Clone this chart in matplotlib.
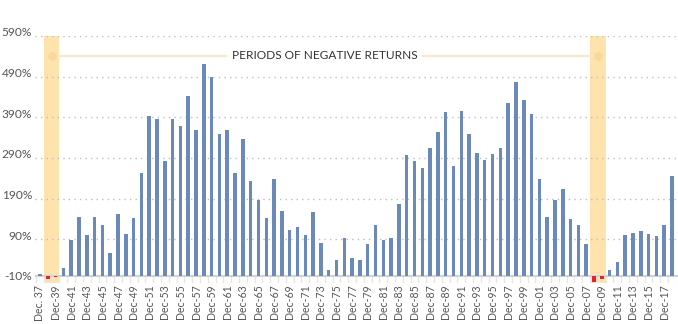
import matplotlib
matplotlib.use("Agg")
import matplotlib.pyplot as plt
from matplotlib.transforms import ScaledTranslation

years = list(range(1937, 2019))
values = [3, -7, -3, 20, 87, 145, 100, 145, 125, 56,
          152, 102, 142, 252, 393, 385, 282, 385, 369, 443,
          359, 522, 488, 348, 358, 252, 337, 234, 187, 142,
          237, 160, 112, 120, 100, 157, 81, 15, 39, 92,
          44, 39, 79, 125, 89, 92, 177, 298, 282, 266,
          314, 353, 403, 269, 406, 348, 303, 284, 300, 314,
          424, 477, 433, 398, 237, 145, 187, 213, 139, 125,
          79, -16, -9, 15, 34, 100, 105, 111, 102, 97,
          125, 246]
negative_periods = [(1938, 1939), (2008, 2009)]
label_years = list(range(1937, 2018, 2))
tick_labels = ["Dec. 37" if y == 1937 else "Dec-%02d" % (y % 100) for y in label_years]
y_ticks = [-10, 90, 190, 290, 390, 490, 590]
annotation = "PERIODS OF NEGATIVE RETURNS"

plt.rcParams['font.family'] = ['Lato', 'DejaVu Sans']

fig = plt.figure(figsize=(6.78, 3.24), dpi=100)
ax = fig.add_axes([35/678, 1 - 283.3/324, 1 - 35/678, (283.3 - 36)/324])

ymin, ymax = -18.7, 590
ax.set_ylim(ymin, ymax)
ax.set_xlim(1936.36, 2018.77)

# shaded negative periods
for a, b in negative_periods:
    ax.axvspan(a - 0.5, b + 0.5, color='#fee3ad', zorder=0, lw=0)

# gridlines
for t in y_ticks[1:]:
    ax.axhline(t, color='#bdbdbd', lw=1, linestyle=(0, (1, 3)), zorder=1)

# tick separators under baseline
ax.vlines([y + 0.5 for y in years[:-1]] + [years[0] - 0.5], ymin, 0,
          color='#e6e6e6', lw=1, zorder=1)

colors = ['#6b8aba' if v >= 0 else '#e8202a' for v in values]
ax.bar(years, values, width=0.45, color=colors, zorder=3, lw=0)

ax.axhline(0, color='#d2d2d2', lw=1.5, zorder=2)

# annotation line with circles
ann_y = 541
centers = [(a + b) / 2 for a, b in negative_periods]
ax.plot(centers, [ann_y, ann_y], color='#f8e8cb', lw=1.6, zorder=2)
ax.scatter(centers, [ann_y, ann_y], s=38, color='#f9d898', zorder=3, lw=0)
ax.text(sum(centers) / 2, ann_y, annotation, ha='center', va='center',
        fontsize=8.6, color='#333333', zorder=4,
        bbox=dict(facecolor='white', edgecolor='none', pad=3.5))

ax.set_yticks(y_ticks)
ax.set_yticklabels(["%d%%" % t for t in y_ticks], fontsize=8.6, color='#555555')
ax.set_xticks(label_years)
ax.set_xticklabels(tick_labels, rotation=90, fontsize=7.6, color='#555555')
ax.tick_params(axis='both', length=0)
ax.tick_params(axis='x', pad=1)
ax.tick_params(axis='y', pad=2)
off = ScaledTranslation(0, 4/100, fig.dpi_scale_trans)
for lab in ax.get_yticklabels():
    lab.set_transform(lab.get_transform() + off)
for s in ax.spines.values():
    s.set_visible(False)

fig.savefig("out.png", dpi=100)
